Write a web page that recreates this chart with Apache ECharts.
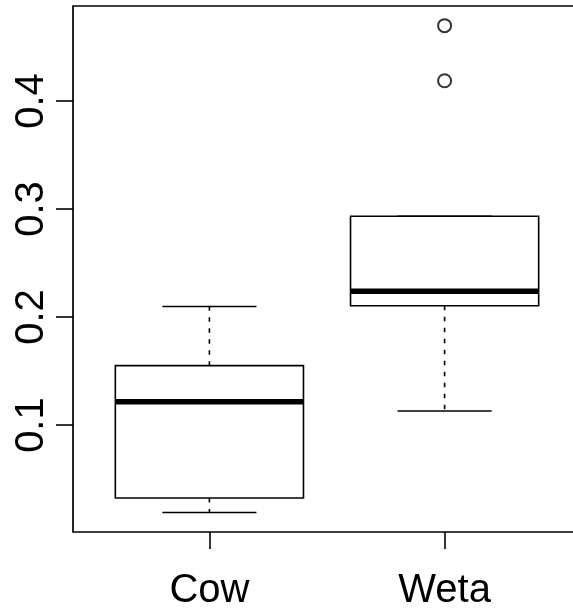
<!DOCTYPE html>
<html>
<head>
<meta charset="utf-8">
<script src="https://cdn.jsdelivr.net/npm/echarts@6/dist/echarts.min.js"></script>
<style>
html,body{margin:0;padding:0;background:#fff;overflow:hidden;}
#chart{width:573px;height:614px;}
</style>
</head>
<body>
<div id="chart"></div>
<script>
// Data
var categories = ['Cow', 'Weta'];
var lowerWhisker = [0.019, 0.113];
var q1 = [0.0325, 0.2105];
var median = [0.1216, 0.2238];
var q3 = [0.155, 0.2934];
var upperWhisker = [0.2098, 0.2934];
var outlierGroup = [2, 2];
var outlierValues = [0.4698, 0.4188];
var yTicks = [0.1, 0.2, 0.3, 0.4];
var xTicks = [1, 2];

var boxData = categories.map(function (c, i) {
  return [i + 1, lowerWhisker[i], q1[i], median[i], q3[i], upperWhisker[i]];
});
var outlierData = outlierValues.map(function (v, i) { return [outlierGroup[i], v]; });

var LW = 1.6;
function renderBox(params, api) {
  var x = api.value(0);
  var lo = api.coord([x, api.value(1)]);
  var b1 = api.coord([x, api.value(2)]);
  var md = api.coord([x, api.value(3)]);
  var b3 = api.coord([x, api.value(4)]);
  var hi = api.coord([x, api.value(5)]);
  var halfBox = api.size([0.4, 0])[0];
  var halfCap = api.size([0.2, 0])[0];
  var cx = lo[0];
  var children = [];
  var dashStyle = { stroke: '#000', lineWidth: LW, lineDash: [4.5, 6.5], fill: null };
  var solid = { stroke: '#000', lineWidth: LW, fill: null };
  if (Math.abs(hi[1] - b3[1]) > 0.5) {
    children.push({ type: 'line', shape: { x1: cx, y1: b3[1], x2: cx, y2: hi[1] }, style: dashStyle });
  }
  if (Math.abs(lo[1] - b1[1]) > 0.5) {
    children.push({ type: 'line', shape: { x1: cx, y1: b1[1], x2: cx, y2: lo[1] }, style: dashStyle });
  }
  children.push({ type: 'line', shape: { x1: cx - halfCap, y1: hi[1], x2: cx + halfCap, y2: hi[1] }, style: solid });
  children.push({ type: 'line', shape: { x1: cx - halfCap, y1: lo[1], x2: cx + halfCap, y2: lo[1] }, style: solid });
  children.push({ type: 'rect', shape: { x: cx - halfBox, y: b3[1], width: 2 * halfBox, height: b1[1] - b3[1] },
    style: { stroke: '#000', lineWidth: LW, fill: 'rgba(0,0,0,0)' } });
  children.push({ type: 'line', shape: { x1: cx - halfBox, y1: md[1], x2: cx + halfBox, y2: md[1] },
    style: { stroke: '#000', lineWidth: 5.5, lineCap: 'butt' } });
  return { type: 'group', children: children };
}

var chart = echarts.init(document.getElementById('chart'), null, { renderer: 'canvas' });
chart.setOption({
  animation: false,
  backgroundColor: '#fff',
  grid: { left: 73, top: 6, width: 508, height: 526, show: true, borderColor: '#000', borderWidth: 1.7,
    backgroundColor: 'transparent', containLabel: false, outerBoundsMode: 'none' },
  xAxis: {
    type: 'value', min: 0.42, max: 2.58,
    splitLine: { show: false },
    axisLine: { show: false },
    axisTick: { show: true, length: 17, customValues: xTicks, lineStyle: { color: '#000', width: 1.6 } },
    axisLabel: {
      customValues: xTicks, margin: 39, color: '#000', fontSize: 40, fontFamily: 'Liberation Sans, Arial, sans-serif',
      formatter: function (v) { return categories[Math.round(v) - 1]; }
    }
  },
  yAxis: {
    type: 'value', min: 0.001, max: 0.488,
    splitLine: { show: false },
    axisLine: { show: false },
    axisTick: { show: true, length: 17, customValues: yTicks, lineStyle: { color: '#000', width: 1.6 } },
    axisLabel: {
      customValues: yTicks, rotate: 90, margin: 21, color: '#000', fontSize: 40, fontFamily: 'Liberation Sans, Arial, sans-serif',
      formatter: function (v) { return v.toFixed(1); }
    }
  },
  series: [
    { type: 'custom', renderItem: renderBox, data: boxData, encode: { x: 0, y: [1, 2, 3, 4, 5] }, silent: true },
    { type: 'scatter', data: outlierData, symbol: 'emptyCircle', symbolSize: 13,
      itemStyle: { color: '#000', borderColor: '#000', borderWidth: 1.6 }, silent: true }
  ]
});
</script>
</body>
</html>
